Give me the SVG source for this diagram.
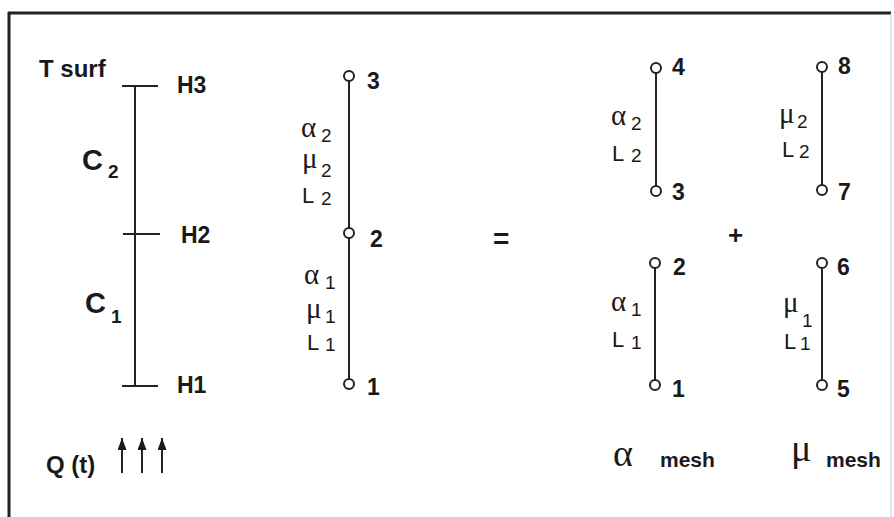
<svg xmlns="http://www.w3.org/2000/svg" width="894" height="517" viewBox="0 0 894 517">
<defs>
<style>
.ln{stroke:#222;stroke-width:2;fill:none}
.nd{stroke:#222;stroke-width:2;fill:#fff}
.b{font-family:"Liberation Sans",Arial,sans-serif;font-weight:bold;fill:#1a1a1a}
.r{font-family:"Liberation Sans",Arial,sans-serif;fill:#1a1a1a}
.g{font-family:"Liberation Serif","Times New Roman",serif;fill:#1a1a1a}
.num{font-size:23px}
.gl{font-size:29px}
.sub{font-size:19px}
.lab{font-size:22px}
</style>
<marker id="ah" viewBox="0 0 12 9" refX="12" refY="4.5" markerWidth="12" markerHeight="9" markerUnits="userSpaceOnUse" orient="auto">
<path d="M0,0 L12,4.5 L0,9 Z" fill="#1a1a1a"/>
</marker>
</defs>
<rect width="894" height="517" fill="#fff"/>
<g id="frame">
<line x1="8" y1="13" x2="891" y2="13" stroke="#222" stroke-width="3"/>
<line x1="9" y1="12" x2="9" y2="517" stroke="#222" stroke-width="3"/>
<line x1="891" y1="13" x2="891" y2="517" stroke="#ccc" stroke-width="1"/>
</g>
<g id="connectors">
<line class="ln" x1="135" y1="86" x2="135" y2="386"/>
<line class="ln" x1="122" y1="86" x2="158" y2="86"/>
<line class="ln" x1="123" y1="234" x2="160" y2="234"/>
<line class="ln" x1="122" y1="386" x2="158" y2="386"/>
<line class="ln" x1="349" y1="76" x2="349" y2="384"/>
<line class="ln" x1="656" y1="68" x2="656" y2="191"/>
<line class="ln" x1="655" y1="263" x2="655" y2="385"/>
<line class="ln" x1="822" y1="67" x2="822" y2="190"/>
<line class="ln" x1="822" y1="263" x2="822" y2="385"/>
<line class="ln" x1="122" y1="473" x2="122" y2="438" marker-end="url(#ah)"/>
<line class="ln" x1="142" y1="473" x2="142" y2="438" marker-end="url(#ah)"/>
<line class="ln" x1="162" y1="473" x2="162" y2="438" marker-end="url(#ah)"/>
</g>
<g id="layers">
<text class="b" x="39" y="77" font-size="24">T surf</text>
<text class="b num" x="177" y="93">H3</text>
<text class="b num" x="181" y="243">H2</text>
<text class="b num" x="177" y="393">H1</text>
<text class="b" x="82" y="170" font-size="29">C</text>
<text class="b" x="108" y="178" font-size="19">2</text>
<text class="b" x="85" y="313" font-size="29">C</text>
<text class="b" x="111" y="323" font-size="19">1</text>
</g>
<g id="element-mid">
<circle class="nd" cx="349" cy="76" r="5"/>
<circle class="nd" cx="349" cy="233" r="5"/>
<circle class="nd" cx="349" cy="384" r="5"/>
<text class="b num" x="367" y="89">3</text>
<text class="b num" x="370" y="247">2</text>
<text class="b num" x="367" y="395">1</text>
<text class="g gl" x="301" y="137">α</text><text class="r sub" x="321" y="142">2</text>
<text class="g gl" x="302" y="168">μ</text><text class="r sub" x="321" y="177">2</text>
<text class="r lab" x="302" y="203">L</text><text class="r sub" x="321" y="205">2</text>
<text class="g gl" x="304" y="284">α</text><text class="r sub" x="325" y="289">1</text>
<text class="g gl" x="306" y="318">μ</text><text class="r sub" x="325" y="323">1</text>
<text class="r lab" x="307" y="350">L</text><text class="r sub" x="325" y="351">1</text>
</g>
<g id="ops">
<text class="b" x="493" y="248" font-size="28">=</text>
<text class="b" x="728" y="244" font-size="26">+</text>
</g>
<g id="alpha-upper">
<circle class="nd" cx="656" cy="68" r="5"/>
<circle class="nd" cx="656" cy="191" r="5"/>
<text class="b num" x="672" y="75">4</text>
<text class="b num" x="672" y="200">3</text>
<text class="g gl" x="611" y="125">α</text><text class="r sub" x="631" y="130">2</text>
<text class="r lab" x="612" y="161">L</text><text class="r sub" x="631" y="162">2</text>
</g>
<g id="alpha-lower">
<circle class="nd" cx="655" cy="263" r="5"/>
<circle class="nd" cx="655" cy="385" r="5"/>
<text class="b num" x="673" y="275">2</text>
<text class="b num" x="672" y="397">1</text>
<text class="g gl" x="611" y="311">α</text><text class="r sub" x="631" y="316">1</text>
<text class="r lab" x="612" y="347">L</text><text class="r sub" x="631" y="349">1</text>
</g>
<g id="mu-upper">
<circle class="nd" cx="822" cy="67" r="5"/>
<circle class="nd" cx="822" cy="190" r="5"/>
<text class="b num" x="838" y="74">8</text>
<text class="b num" x="838" y="200">7</text>
<text class="g gl" x="779" y="123">μ</text><text class="r sub" x="797" y="128">2</text>
<text class="r lab" x="782" y="157">L</text><text class="r sub" x="799" y="158">2</text>
</g>
<g id="mu-lower">
<circle class="nd" cx="822" cy="263" r="5"/>
<circle class="nd" cx="822" cy="385" r="5"/>
<text class="b num" x="837" y="275">6</text>
<text class="b num" x="837" y="397">5</text>
<text class="g gl" x="783" y="312">μ</text><text class="r sub" x="802" y="327">1</text>
<text class="r lab" x="784" y="349">L</text><text class="r sub" x="800" y="350">1</text>
</g>
<g id="source">
<text class="b" x="46" y="473" font-size="24">Q (t)</text>
</g>
<g id="legend">
<text class="g" x="613" y="466" font-size="38">α</text>
<text class="b" x="660" y="467" font-size="21">mesh</text>
<text class="g" x="791" y="461" font-size="38">μ</text>
<text class="b" x="826" y="467" font-size="21">mesh</text>
</g>
</svg>
